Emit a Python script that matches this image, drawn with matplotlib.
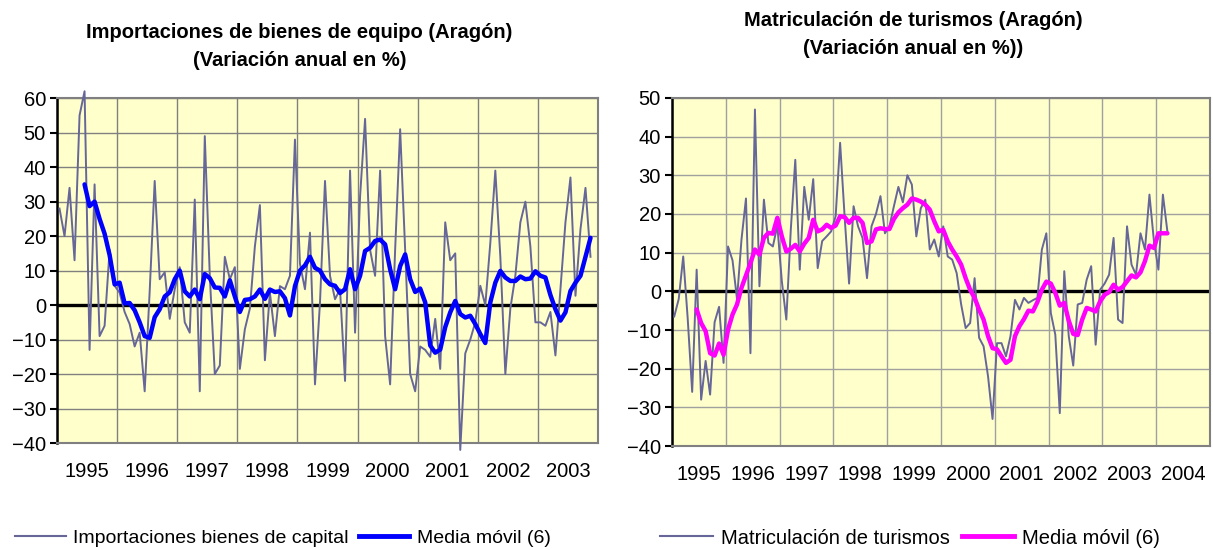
import numpy as np
import matplotlib.pyplot as plt
from matplotlib.lines import Line2D

# ---- DATOS (variación anual en %, mensual desde enero de 1995) ----

# Importaciones de bienes de equipo (Aragón)
importaciones = [28, 20, 34, 13, 55, 62, -13, 35, -9, -6, 16, 5.6,
                 3.6, -2, -5.5, -12, -8, -25, 4, 36, 7.5, 9.5, -4, 4.6,
                 11, -5, -8, 30.6, -25, 49, 8.5, -20, -17.5, 14, 7.5, 11,
                 -18.5, -7, -1, 17, 29, -16, 3.6, -9, 5.5, 4.6, 8.5, 48,
                 12, 4.6, 21, -23, 0.8, 36, 8.5, 1.7, 4.6, -22, 39, -8,
                 31.5, 54, 16, 8.5, 39, -9, -23, 16, 51, 16, -20, -25,
                 -12, -13, -15, -4, -18.5, 24, 13, 15, -42, -14, -10, -5,
                 5.6, 0, 18, 39, 14, -20, -1, 8.5, 24, 30, 17, -5,
                 -5, -6, -2, -14.6, 4.6, 24, 37, 2.7, 22, 34, 14]

# Media móvil (6) de las importaciones, desde junio de 1995
media_importaciones = [35, 28.7, 30, 25, 20.7, 14.5, 6,
                       6.5, 0.5, 0.6, -1.5, -5, -9, -9.5, -3.5, -1.2, 2.5, 3.7, 7.5,
                       10, 4, 2.5, 4.5, 1.7, 9, 7.8, 5.1, 5, 2.5, 7.2, 2.5,
                       -2, 1.5, 1.7, 2.5, 4.5, 1.8, 4.5, 3.8, 4, 2, -3, 5.5,
                       10, 11.5, 14, 10.8, 10, 7.5, 6, 5.6, 3.5, 4.6, 10.4, 4.6,
                       8.5, 15.7, 16.6, 18.6, 19, 17.6, 10.4, 4.6, 11.3, 14.7, 7.5, 3.8,
                       4.8, 0.8, -11.7, -13.8, -12.9, -6.4, -2.1, 1.2, -2.6, -3.6, -3.1, -5.5,
                       -8.4, -11, 0.8, 6.5, 9.9, 8, 7, 7, 8.3, 7.5, 7.7, 9.8,
                       8.5, 8, 2.9, -1.2, -4.5, -2.1, 4.1, 6.5, 8.5, 14, 19.5]

# Matriculación de turismos (Aragón)
matriculaciones = [-6.5, -2, 9, -7, -26, 5.6, -28, -18, -26.7, -8, -4, -18.5,
                   11.6, 8, -2, 13.4, 24, -16, 47, 1.3, 23.7, 12.5, 11.6, 17,
                   2.6, -7.3, 16, 34, 5.6, 27, 18.5, 29, 6, 13, 14.2, 15.5,
                   19.4, 38.4, 19.4, 2, 22, 16.8, 13.8, 3.4, 16.8, 20, 24.6, 15,
                   16.8, 22, 27, 23, 30, 27.6, 14.2, 21.5, 23.7, 10.8, 13.4, 9,
                   16.8, 9, 8.2, 4.7, -3.4, -9.5, -8.2, 3.4, -12, -14.2, -22, -33,
                   -13.4, -13.4, -16.8, -11.6, -2.2, -4.7, -1.7, -3, -2.3, -1.7, 10.8, 15,
                   -5.6, -11.2, -31.5, 5.2, -11.6, -19.2, -3.4, -3, 3, 6.5, -13.8, 0.4,
                   2, 4.3, 13.8, -7.3, -8.2, 16.8, 6.9, 4.3, 15, 10.8, 25, 13,
                   5.6, 25, 15.5]

# Media móvil (6) de las matriculaciones, desde junio de 1995
media_matriculaciones = [-4.7, -8.2, -10.3, -16, -16.6, -13.5, -16.4,
                         -9.9, -6, -3.4, 0.9, 4.1, 7.3, 10.8, 9.5, 13.8, 15.1, 14.9, 19,
                         14.2, 10.3, 11, 12, 10.3, 12.3, 13.8, 18.5, 15.5, 16, 17.2, 16.4,
                         17, 19.4, 19.2, 17.7, 19, 19, 17.7, 12.5, 12.9, 16, 16.3, 16.1,
                         16.1, 18.7, 20.4, 21.5, 22.4, 24, 23.7, 23.2, 22.4, 21.1, 18.1, 15.5,
                         15.9, 12.9, 10.8, 9, 6.9, 3.4, 0.4, -1.7, -4.7, -7.3, -11.6, -14.7,
                         -15, -16.8, -18.5, -17.7, -11.6, -9, -7.2, -5, -5.2, -2.8, 0.4, 2.5,
                         2, -0.4, -3.7, -3, -7.6, -11, -11.3, -7.3, -4.3, -4.7, -5.2, -2.6,
                         -0.9, -0.2, 1.7, 0.4, 1.1, 2.6, 4.1, 3.6, 4.9, 7.8, 11.8, 11.2,
                         15, 15, 15]

anios_importaciones = ['1995', '1996', '1997', '1998', '1999', '2000', '2001', '2002', '2003']
anios_matriculaciones = ['1995', '1996', '1997', '1998', '1999', '2000', '2001', '2002', '2003', '2004']

# ---- ESTILO ----
plt.rcParams['font.family'] = ['Liberation Sans', 'DejaVu Sans']
color_serie = '#666699'
fondo = '#ffffcc'


def dibujar_panel(ax, serie, media, anios, ymin, ymax, color_media, color_grid):
    n_meses = 12 * len(anios)
    x_serie = np.arange(len(serie))
    x_media = np.arange(5, 5 + len(media))

    ax.set_facecolor(fondo)
    ax.set_xlim(-0.5, n_meses - 0.5)
    ax.set_ylim(ymin, ymax)

    # Rejilla: líneas verticales entre años, horizontales cada 10
    ax.set_xticks(np.arange(-0.5, n_meses, 12))
    ax.set_xticklabels([])
    ax.set_xticks(np.arange(5.5, n_meses, 12), minor=True)
    ax.set_xticklabels(anios, minor=True)
    ax.tick_params(axis='x', which='both', length=0, labelsize=14.5, pad=14)
    ax.set_yticks(np.arange(ymin, ymax + 1, 10))
    ax.tick_params(axis='y', length=5, width=1.5, direction='out', labelsize=14.5, pad=3)
    ax.grid(True, which='major', color=color_grid, linewidth=1)
    ax.set_axisbelow(True)

    for lado in ['top', 'right', 'bottom']:
        ax.spines[lado].set_color('#808080')
        ax.spines[lado].set_linewidth(1.5)
    ax.spines['left'].set_color('black')
    ax.spines['left'].set_linewidth(1.8)

    ax.axhline(0, color='black', linewidth=2.4, zorder=2)
    ax.plot(x_serie, serie, color=color_serie, linewidth=1.4, zorder=3, clip_on=False)
    ax.plot(x_media, media, color=color_media, linewidth=3.2, zorder=4,
            solid_joinstyle='round', solid_capstyle='round')


fig = plt.figure(figsize=(12.13, 5.5), dpi=100)
ax1 = fig.add_axes([0.047, 0.1945, 0.446, 0.627])
ax2 = fig.add_axes([0.554, 0.189, 0.4435, 0.633])

dibujar_panel(ax1, importaciones, media_importaciones, anios_importaciones, -40, 60, '#0000ff', '#808080')
dibujar_panel(ax2, matriculaciones, media_matriculaciones, anios_matriculaciones, -40, 50, '#ff00ff', '#a0a0a0')

# Títulos
fig.text(0.247, 1 - 32 / 550, 'Importaciones de bienes de equipo (Aragón)',
         ha='center', va='center', fontsize=14.5, fontweight='bold')
fig.text(0.247, 1 - 60 / 550, '(Variación anual en %)',
         ha='center', va='center', fontsize=14.5, fontweight='bold')
fig.text(0.753, 1 - 20 / 550, 'Matriculación de turismos (Aragón)',
         ha='center', va='center', fontsize=14.5, fontweight='bold')
fig.text(0.753, 1 - 48 / 550, '(Variación anual en %))',
         ha='center', va='center', fontsize=14.5, fontweight='bold')

# Leyendas
leyenda1 = [Line2D([], [], color=color_serie, linewidth=1.5),
            Line2D([], [], color='#0000ff', linewidth=3.5)]
fig.legend(leyenda1, ['Importaciones bienes de capital', 'Media móvil (6)'],
           loc='center', bbox_to_anchor=(283 / 1213, 1 - 538 / 550), ncol=2,
           frameon=False, fontsize=14, handlelength=2.6, handletextpad=0.4,
           columnspacing=0.5)
leyenda2 = [Line2D([], [], color=color_serie, linewidth=1.5),
            Line2D([], [], color='#ff00ff', linewidth=3.5)]
fig.legend(leyenda2, ['Matriculación de turismos', 'Media móvil (6)'],
           loc='center', bbox_to_anchor=(910 / 1213, 1 - 538 / 550), ncol=2,
           frameon=False, fontsize=14.5, handlelength=2.6, handletextpad=0.4,
           columnspacing=0.6)

fig.savefig('out.png', dpi=100)
